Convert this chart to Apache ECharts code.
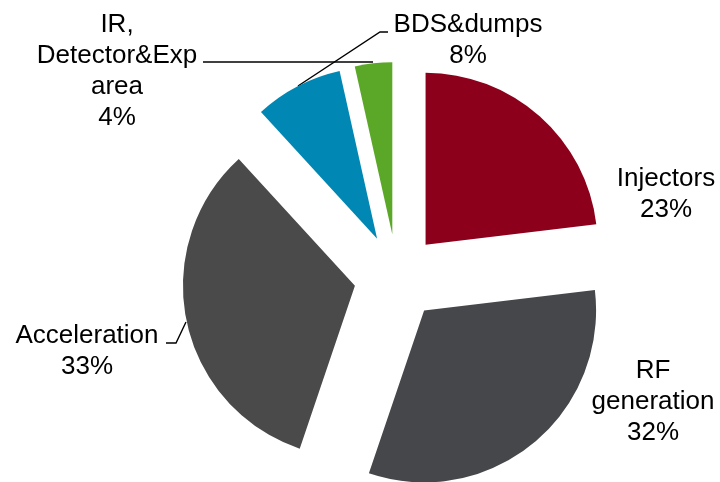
<!DOCTYPE html>
<html>
<head>
<meta charset="utf-8">
<script src="https://cdn.jsdelivr.net/npm/echarts@6/dist/echarts.min.js"></script>
<style>html,body{margin:0;padding:0;background:#fff}#c{width:720px;height:482px}</style>
</head>
<body>
<div id="c"></div>
<script>
// ---- data ----
const categories = ['Injectors', 'RF generation', 'Acceleration', 'BDS&dumps', 'IR, Detector&Exp area'];
const labelNames = ['Injectors', 'RF\ngeneration', 'Acceleration', 'BDS&dumps', 'IR,\nDetector&Exp\narea'];
const shares = [23.1, 32.1, 33.0, 8.3, 3.5];
const colors = ['#8C001C', '#46474B', '#4A4A4A', '#0087B4', '#5BA829'];

// ---- label placement (layout only) ----
const labelPos = [
  { x: 666, y: 194, line: null },
  { x: 653, y: 402, line: null },
  { x: 87, y: 351, line: [[186, 322], [176, 343], [166, 343]] },
  { x: 468, y: 40, line: [[298, 86], [380, 32], [388, 32]] },
  { x: 117, y: 71, line: [[373, 62], [288, 62], [203, 62]] }
];

const FONT = '26px "Liberation Sans", Arial, sans-serif';

const chart = echarts.init(document.getElementById('c'), null, { renderer: 'canvas' });
const total = shares.reduce((a, b) => a + b, 0);
const data = categories.map((c, i) => ({
  name: c,
  value: shares[i],
  selected: true,
  itemStyle: { color: colors[i] }
}));

const graphics = [];
labelPos.forEach((lp, i) => {
  graphics.push({
    type: 'text',
    silent: true,
    style: {
      text: labelNames[i] + '\n' + Math.round(shares[i] / total * 100) + '%',
      x: lp.x,
      y: lp.y,
      align: 'center',
      verticalAlign: 'middle',
      font: FONT,
      lineHeight: 31,
      fill: '#000'
    }
  });
  if (lp.line) {
    graphics.push({
      type: 'polyline',
      silent: true,
      shape: { points: lp.line },
      style: { stroke: '#000', lineWidth: 1.4, fill: null }
    });
  }
});

chart.setOption({
  animation: false,
  graphic: graphics,
  series: [{
    type: 'pie',
    center: [397, 277],
    radius: [0, 172],
    startAngle: 90,
    clockwise: true,
    selectedMode: 'multiple',
    selectedOffset: 43,
    emphasis: { disabled: true },
    label: { show: false },
    labelLine: { show: false },
    data: data
  }]
});
</script>
</body>
</html>
